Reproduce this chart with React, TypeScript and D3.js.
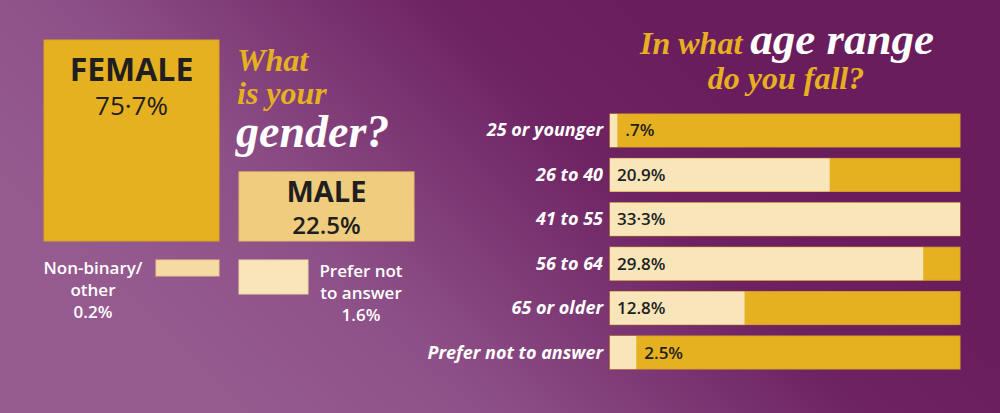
import React from 'react';
import * as d3 from 'd3';

// gender question
const genderLabels = ['FEMALE', 'MALE', 'Non-binary/ other', 'Prefer not to answer'];
const genderValues = [75.7, 22.5, 0.2, 1.6];
const genderValueText = ['75·7%', '22.5%', '0.2%', '1.6%'];

// age question
const ageCategories = ['25 or younger', '26 to 40', '41 to 55', '56 to 64', '65 or older', 'Prefer not to answer'];
const ageValues = [0.7, 20.9, 33.3, 29.8, 12.8, 2.5];
const ageValueText = ['.7%', '20.9%', '33·3%', '29.8%', '12.8%', '2.5%'];

const W = 1000;
const H = 413;
const GOLD = '#e6b121';
const CREAM = '#f8e5ba';
const INK = '#221e1f';
const SANS = '"Open Sans", "Noto Sans", sans-serif';
const SERIF = '"Liberation Serif", "DejaVu Serif", serif';

const App: React.FC = () => {
  // big boxes: heights from a power scale, bottoms aligned
  const bigH = d3.scalePow().exponent(0.88).domain([0, genderValues[0]]).range([0, 201]);
  const smallH = d3.scaleLinear().domain([genderValues[2], genderValues[3]]).range([16, 34]);
  const base = 241;
  const boxW = 175;
  const femaleX = 44;
  const maleX = 239;

  const femaleH = bigH(genderValues[0]);
  const maleH = bigH(genderValues[1]);
  const nbH = smallH(genderValues[2]);
  const pnH = smallH(genderValues[3]);

  // age bars
  const x = d3.scaleLinear().domain([0, d3.max(ageValues) as number]).range([610, 960]);
  const y = d3.scaleBand<string>().domain(ageCategories).range([114, 369]).paddingInner(0.257);

  const [nbLine1, nbLine2] = genderLabels[2].split(' ');
  return (
    <svg
      width={W}
      height={H}
      viewBox={`0 0 ${W} ${H}`}
      style={{ position: 'fixed', left: 0, top: 0, display: 'block' }}
    >
      <defs>
        <linearGradient id="bg" gradientUnits="userSpaceOnUse" x1={250} y1={413} x2={650} y2={0}>
          <stop offset="0" stopColor="#955b8f" />
          <stop offset="0.3" stopColor="#8d4f87" />
          <stop offset="0.75" stopColor="#6d2262" />
          <stop offset="1" stopColor="#6a1d5c" />
        </linearGradient>
      </defs>
      <rect width={W} height={H} fill="url(#bg)" />

      {/* gender boxes */}
      <rect x={femaleX} y={base - femaleH} width={boxW} height={femaleH} fill={GOLD} stroke="#d9a31f" strokeWidth={1} />
      <rect x={maleX} y={base - maleH} width={boxW} height={maleH} fill="#f0cd7e" stroke="#e7bd68" strokeWidth={1} />
      <rect x={femaleX + boxW - 63} y={260} width={63} height={nbH} fill="#f5dba2" stroke="#ecc98a" strokeWidth={1} />
      <rect x={maleX} y={260} width={69} height={pnH} fill={CREAM} stroke="#efd7a4" strokeWidth={1} />

      <g fontFamily={SANS} fill={INK} textAnchor="middle">
        <text x={femaleX + boxW / 2} y={81} fontSize={32} fontWeight={700}>{genderLabels[0]}</text>
        <text x={femaleX + boxW / 2} y={115} fontSize={26} fontWeight={500}>{genderValueText[0]}</text>
        <text x={maleX + boxW / 2} y={202} fontSize={29} fontWeight={700}>{genderLabels[1]}</text>
        <text x={maleX + boxW / 2} y={234} fontSize={24} fontWeight={600}>{genderValueText[1]}</text>
      </g>
      <g fontFamily={SANS} fill="#ffffff" textAnchor="middle" fontSize={17} fontWeight={600}>
        <text x={93} y={274}>{nbLine1}</text>
        <text x={93} y={296}>{nbLine2}</text>
        <text x={93} y={318}>{genderValueText[2]}</text>
        <text x={361} y={277}>Prefer not</text>
        <text x={361} y={299}>to answer</text>
        <text x={361} y={321}>{genderValueText[3]}</text>
      </g>

      {/* gender title */}
      <g fontFamily={SERIF} fontStyle="italic" fontWeight={700}>
        <text x={237} y={71} fontSize={32} fill={GOLD}>What</text>
        <text x={237} y={104} fontSize={32} fill={GOLD}>is your</text>
        <text x={236} y={147} fontSize={46} fill="#ffffff">gender?</text>
      </g>

      {/* age title */}
      <g fontFamily={SERIF} fontStyle="italic" fontWeight={700} textAnchor="middle">
        <text x={787} y={54}>
          <tspan fontSize={32} fill={GOLD}>In what </tspan>
          <tspan fontSize={45} fill="#ffffff">age range</tspan>
        </text>
        <text x={786} y={89} fontSize={32} fill={GOLD}>do you fall?</text>
      </g>

      {/* age bars */}
      {ageCategories.map((c, i) => {
        const top = y(c) as number;
        const bw = y.bandwidth();
        const lightEnd = x(ageValues[i]);
        const labelX = lightEnd - x(0) < 40 ? lightEnd + 8 : x(0) + 7;
        return (
          <g key={c}>
            <rect x={x(0)} y={top} width={x.range()[1] - x(0)} height={bw} fill={GOLD} stroke="#dba327" strokeWidth={1} />
            <rect x={x(0)} y={top} width={lightEnd - x(0)} height={bw} fill={CREAM} />
            <text
              x={603}
              y={top + bw / 2 + 6}
              textAnchor="end"
              fontFamily={SANS}
              fontStyle="italic"
              fontWeight={700}
              fontSize={18}
              fill="#ffffff"
            >
              {c}
            </text>
            <text
              x={labelX}
              y={top + bw / 2 + 6}
              fontFamily={SANS}
              fontWeight={600}
              fontSize={17}
              fill={INK}
            >
              {ageValueText[i]}
            </text>
          </g>
        );
      })}
    </svg>
  );
};

export default App;
